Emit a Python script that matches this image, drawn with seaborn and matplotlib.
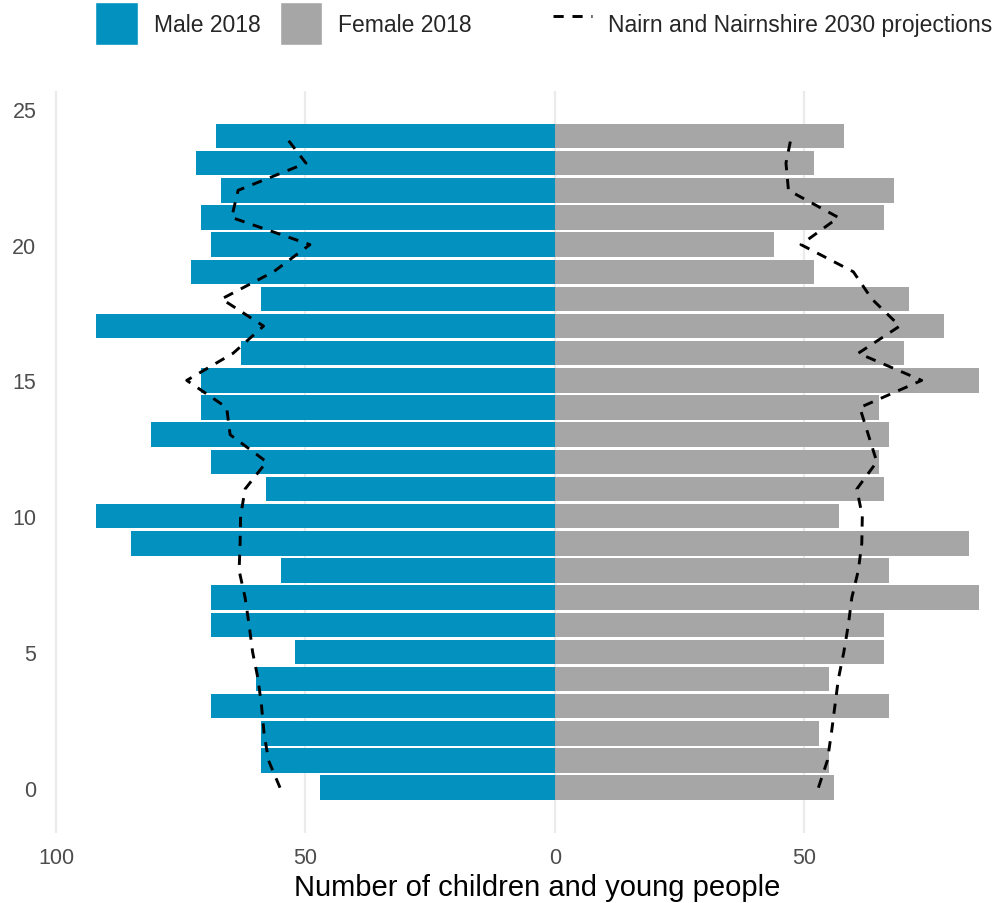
import numpy as np
import pandas as pd
import seaborn as sns
import matplotlib.pyplot as plt
from matplotlib.patches import Patch
from matplotlib.lines import Line2D

# ages 0..24
ages = list(range(25))
male_2018 = [47, 59, 59, 69, 60, 52, 69, 69, 55, 85, 92, 58, 69,
             81, 71, 71, 63, 92, 59, 73, 69, 71, 67, 72, 68]
female_2018 = [56, 55, 53, 67, 55, 66, 66, 85, 67, 83, 57, 66, 65,
               67, 65, 85, 70, 78, 71, 52, 44, 66, 68, 52, 58]
male_2030 = [55.1, 57.4, 58.3, 58.8, 59.5, 60.6, 61.3, 62.1, 63.3, 63.1, 63.0, 62.1, 57.8,
             65.1, 65.8, 73.8, 64.5, 58.4, 66.8, 56.4, 49.1, 64.8, 63.5, 49.9, 54.1]
female_2030 = [52.8, 54.6, 55.4, 56.1, 56.8, 57.9, 58.8, 59.5, 60.8, 61.5, 61.6, 60.5, 64.5,
               62.8, 61.1, 73.5, 60.8, 69.1, 63.5, 59.8, 49.3, 56.8, 46.8, 46.3, 47.4]

male_col = "#0392C0"
female_col = "#A6A6A6"
dash = (0, (3.5, 3))

df = pd.DataFrame({"age": ages,
                   "male": -np.array(male_2018),
                   "female": female_2018,
                   "male_proj": -np.array(male_2030),
                   "female_proj": female_2030})

sns.set_theme(style="white")
plt.rcParams["font.family"] = ["Liberation Sans", "DejaVu Sans"]

fig = plt.figure(figsize=(10.01, 9.04), dpi=100)
# panel runs a little past the right edge of the picture (cropped, as in the original)
ax = fig.add_axes([0.0517, 0.0774, 0.9705, 0.8212])

sns.barplot(data=df, x="male", y="age", orient="h", native_scale=True,
            width=0.9, color=male_col, saturation=1, linewidth=0, ax=ax)
sns.barplot(data=df, x="female", y="age", orient="h", native_scale=True,
            width=0.9, color=female_col, saturation=1, linewidth=0, ax=ax)
sns.lineplot(data=df, x="male_proj", y="age", sort=False, estimator=None,
             color="black", lw=2.1, linestyle=dash, ax=ax)
sns.lineplot(data=df, x="female_proj", y="age", sort=False, estimator=None,
             color="black", lw=2.1, linestyle=dash, ax=ax)

ax.set_xlim(-100.85, 93.85)
ax.set_ylim(-1.67, 25.67)
ax.set_xticks([-100, -50, 0, 50])
ax.set_xticklabels(["100", "50", "0", "50"])
ax.set_yticks([0, 5, 10, 15, 20, 25])
ax.tick_params(axis="both", labelsize=15.5, labelcolor="#4D4D4D", length=0)
ax.tick_params(axis="x", pad=10)
ax.tick_params(axis="y", pad=11)
ax.xaxis.grid(True, color="#EBEBEB", lw=1.6)
ax.yaxis.grid(False)
ax.set_axisbelow(True)
for s in ax.spines.values():
    s.set_visible(False)
ax.set_xlabel("Number of children and young people", fontsize=21, color="black", labelpad=4)
ax.set_ylabel("")

h1 = [Patch(facecolor=male_col, label="Male 2018"),
      Patch(facecolor=female_col, label="Female 2018")]
fig.legend(handles=h1, loc="upper left", bbox_to_anchor=(0.086, 1.007), ncol=2,
           frameon=False, fontsize=16.5, handlelength=1.85, handleheight=2.55,
           handletextpad=0.7, columnspacing=0.85, borderaxespad=0)
h2 = [Line2D([0], [0], color="black", lw=2.1, linestyle=dash,
             label="Nairn and Nairnshire 2030 projections")]
fig.legend(handles=h2, loc="upper left", bbox_to_anchor=(0.543, 1.007), frameon=False,
           fontsize=16.5, handlelength=1.7, handleheight=2.55, handletextpad=0.7,
           borderaxespad=0)

fig.savefig("out.png", dpi=100)
